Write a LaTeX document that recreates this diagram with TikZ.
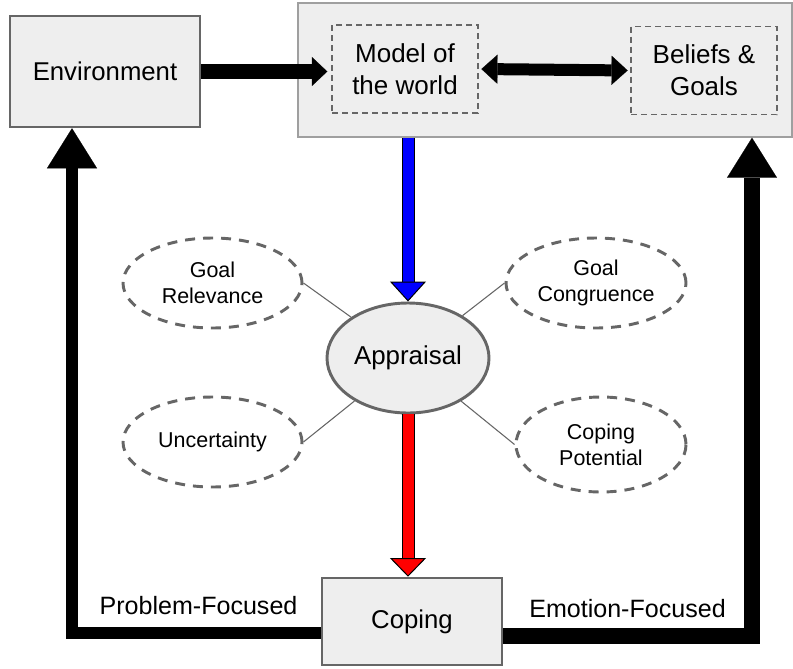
\documentclass[tikz,border=0pt]{standalone}
\usepackage{fontspec}
\setmainfont{Liberation Sans}
\usepackage{tikz}
\usetikzlibrary{shapes.geometric}
\usetikzlibrary{arrows.meta}
\definecolor{fondo}{HTML}{EEEEEE}
\definecolor{borde}{HTML}{666666}
\tikzstyle{caja}=[rectangle, draw=borde, fill=fondo, line width=1.9pt, inner sep=0pt, align=center, font=\fontsize{19.3}{24}\selectfont]
\tikzstyle{punteada}=[rectangle, draw=borde, dash pattern=on 4.5pt off 3pt, line width=1.1pt, inner sep=0pt, align=center, minimum width=109.5pt, minimum height=66pt, font=\fontsize{19.5}{24}\selectfont]
\tikzstyle{elipse}=[ellipse, draw=borde, dash pattern=on 7.5pt off 6pt, line width=2.2pt, inner sep=0pt, align=center, font=\fontsize{16.1}{19.5}\selectfont]
\tikzstyle{central}=[ellipse, draw=borde, fill=fondo, line width=2.2pt, inner sep=0pt, minimum width=121.5pt, minimum height=82.5pt, font=\fontsize{19.4}{24}\selectfont]
\tikzstyle{etiqueta}=[inner sep=0pt, anchor=base, font=\fontsize{18.8}{23}\selectfont]
\tikzstyle{rama}=[draw=borde, line width=0.8pt]
\tikzstyle{lazo}=[black, -{Triangle[length=30pt,width=37.5pt,line width=0.1pt]}]

\begin{document}
\begin{tikzpicture}[x=0.75pt,y=-0.75pt]
            \useasboundingbox (0,0) rectangle (793,668);
            % Cajas
            \node[caja, draw=gray!75, line width=1.1pt, minimum width=370.5pt, minimum height=100.5pt] (mundo) at (545,70) {};
            \node[caja, minimum width=142.5pt, minimum height=83.25pt] (entorno) at (105,71.5) {Environment};
            \node[punteada] (modelo) at (405,69) {Model of\\the world};
            \node[punteada] (creencias) at (704,70.5) {Beliefs \&\\Goals};
            \node[caja, minimum width=135pt, minimum height=65.25pt] (afrontamiento) at (412,621.5) {Coping};
            % Elipses
            \node[central] (valoracion) at (408,358) {Appraisal};
            \node[elipse, minimum width=134.25pt, minimum height=67.5pt] (relevancia) at (212.5,283) {Goal\\Relevance};
            \node[elipse, minimum width=135pt, minimum height=67.5pt] (congruencia) at (596,283) {Goal\\Congruence};
            \node[elipse, minimum width=134.25pt, minimum height=67.5pt] (incertidumbre) at (212.5,442) {Uncertainty};
            \node[elipse, minimum width=127.5pt, minimum height=71.25pt] (potencial) at (601,444.5) {Coping\\Potential};
            % Etiquetas
            \node[etiqueta] (problema) at (198.5,614) {Problem-Focused};
            \node[etiqueta] (emocion) at (627.5,617) {Emotion-Focused};
            \coordinate (izq) at (72,633);
            \coordinate (der) at (752,636);
            % Ramas
            \draw[rama] (relevancia.east) -- (valoracion);
            \draw[rama] (congruencia.west) -- (valoracion);
            \draw[rama] (incertidumbre.east) -- (valoracion);
            \draw[rama] (potencial.west) -- (valoracion);
            % Flechas
            \draw[line width=11.25pt, shorten >=3pt, -{Triangle[length=11.5pt,width=21.75pt,line width=0.1pt]}] (entorno.east) -- (entorno.east -| modelo.west);
            \draw[line width=9pt, shorten <=2pt, shorten >=2pt, {Triangle[length=12pt,width=21.75pt,line width=0.1pt]}-{Triangle[length=12pt,width=21.75pt,line width=0.1pt]}] (modelo.east) -- (creencias.west);
            \draw[line width=9.75pt, shorten >=13pt] (valoracion |- mundo.south) -- (valoracion.north);
            \draw[blue, line width=8.25pt, -{Triangle[length=15pt,width=27pt,line width=0.75pt,color=black,fill=blue]}] (valoracion |- mundo.south) -- (valoracion.north);
            \draw[line width=9.75pt, shorten >=12pt] (valoracion.south) -- (valoracion.south |- afrontamiento.north);
            \draw[red, line width=8.25pt, -{Triangle[length=14pt,width=27pt,line width=0.75pt,color=black,fill=red]}] (valoracion.south) -- (valoracion.south |- afrontamiento.north);
            \draw[lazo, line width=9.5pt] (afrontamiento.west |- izq) -- (izq) -- (izq |- entorno.south);
            \draw[lazo, line width=11.5pt] (afrontamiento.east |- der) -- (der) -- (der |- mundo.south);
        \end{tikzpicture}
\end{document}
